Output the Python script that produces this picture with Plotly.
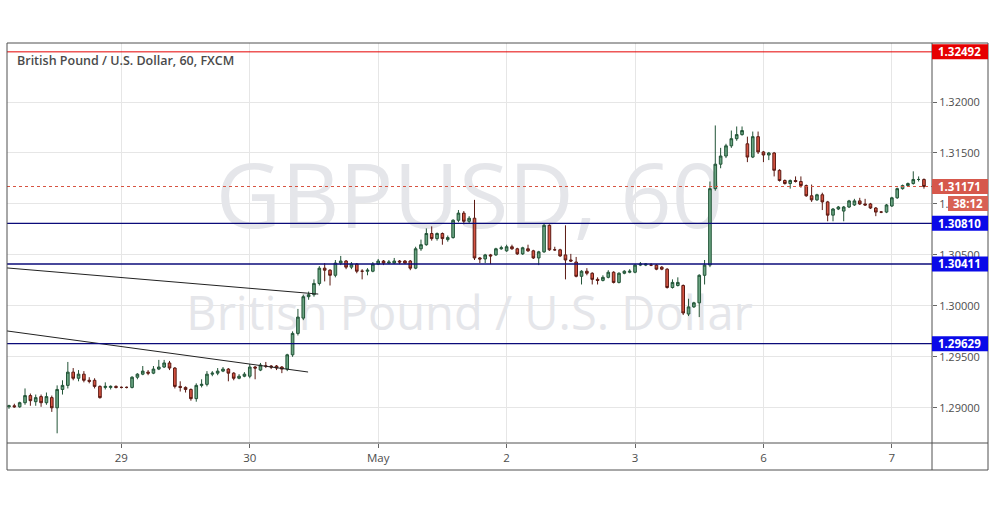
import plotly.graph_objects as go

# ---------------- data ----------------
opens = [1.2901,1.2902,1.2901,1.2905,1.2912,1.2906,1.2911,1.2905,1.2910,1.2900,
         1.2918,1.2922,1.2935,1.2929,1.2933,1.2927,1.2927,1.2921,1.2920,1.2920,
         1.2921,1.2920,1.2920,1.2920,1.2930,1.2933,1.2935,1.2934,1.2938,1.2940,
         1.2944,1.2939,1.2921,1.2920,1.2918,1.2909,1.2922,1.2923,1.2933,1.2934,
         1.2936,1.2938,1.2934,1.2929,1.2931,1.2931,1.2940,1.2937,1.2941,1.2941,
         1.2941,1.2940,1.2938,1.2952,1.2973,1.2988,1.3009,1.3011,1.3022,1.3037,
         1.3035,1.3030,1.3042,1.3044,1.3038,1.3041,1.3034,1.3034,1.3034,1.3041,
         1.3044,1.3042,1.3042,1.3044,1.3044,1.3044,1.3037,1.3056,1.3060,1.3071,
         1.3066,1.3071,1.3065,1.3067,1.3084,1.3091,1.3083,1.3086,1.3047,1.3046,
         1.3050,1.3050,1.3056,1.3054,1.3058,1.3056,1.3051,1.3056,1.3054,1.3047,
         1.3053,1.3079,1.3055,1.3055,1.3050,1.3045,1.3043,1.3029,1.3034,1.3032,
         1.3026,1.3025,1.3028,1.3033,1.3023,1.3032,1.3033,1.3033,1.3040,1.3040,
         1.3040,1.3040,1.3038,1.3036,1.3018,1.3020,1.3020,1.2992,1.2999,1.3003,
         1.3030,1.3040,1.3115,1.3139,1.3147,1.3157,1.3164,1.3168,1.3159,1.3146,
         1.3166,1.3151,1.3148,1.3150,1.3133,1.3123,1.3120,1.3123,1.3122,1.3118,
         1.3108,1.3104,1.3109,1.3102,1.3089,1.3095,1.3093,1.3097,1.3099,1.3103,
         1.3100,1.3100,1.3096,1.3092,1.3092,1.3098,1.3106,1.3115,1.3118,1.3120,
         1.3124,1.3124]
highs = [1.2903,1.2904,1.2906,1.2919,1.2914,1.2913,1.2913,1.2915,1.2912,1.2922,
         1.2927,1.2945,1.2939,1.2937,1.2936,1.2930,1.2929,1.2922,1.2925,1.2922,
         1.2922,1.2921,1.2921,1.2931,1.2934,1.2941,1.2937,1.2941,1.2947,1.2947,
         1.2946,1.2940,1.2926,1.2921,1.2919,1.2924,1.2928,1.2936,1.2936,1.2939,
         1.2940,1.2939,1.2935,1.2933,1.2935,1.2943,1.2941,1.2944,1.2945,1.2942,
         1.2942,1.2941,1.2953,1.2975,1.2997,1.3011,1.3014,1.3026,1.3039,1.3042,
         1.3036,1.3045,1.3049,1.3045,1.3043,1.3042,1.3036,1.3037,1.3043,1.3046,
         1.3045,1.3045,1.3047,1.3045,1.3045,1.3045,1.3058,1.3065,1.3076,1.3078,
         1.3072,1.3072,1.3069,1.3085,1.3094,1.3093,1.3088,1.3104,1.3048,1.3051,
         1.3051,1.3057,1.3059,1.3060,1.3060,1.3057,1.3058,1.3060,1.3055,1.3054,
         1.3081,1.3080,1.3058,1.3056,1.3079,1.3051,1.3048,1.3035,1.3037,1.3033,
         1.3028,1.3030,1.3035,1.3034,1.3033,1.3035,1.3036,1.3041,1.3043,1.3042,
         1.3042,1.3041,1.3039,1.3037,1.3026,1.3028,1.3021,1.3007,1.3004,1.3031,
         1.3045,1.3122,1.3177,1.3155,1.3159,1.3172,1.3176,1.3176,1.3166,1.3171,
         1.3171,1.3152,1.3151,1.3151,1.3134,1.3124,1.3124,1.3127,1.3127,1.3119,
         1.3119,1.3110,1.3111,1.3103,1.3096,1.3098,1.3098,1.3104,1.3105,1.3106,
         1.3105,1.3101,1.3097,1.3093,1.3100,1.3107,1.3116,1.3119,1.3121,1.3132,
         1.3127,1.3125]
lows = [1.2899,1.2900,1.2900,1.2903,1.2902,1.2902,1.2901,1.2903,1.2896,1.2875,
        1.2913,1.2919,1.2927,1.2926,1.2925,1.2924,1.2919,1.2909,1.2918,1.2918,
        1.2919,1.2919,1.2919,1.2919,1.2928,1.2932,1.2932,1.2933,1.2937,1.2939,
        1.2937,1.2919,1.2916,1.2915,1.2907,1.2906,1.2920,1.2921,1.2931,1.2932,
        1.2935,1.2926,1.2927,1.2928,1.2930,1.2929,1.2928,1.2936,1.2939,1.2938,
        1.2937,1.2934,1.2936,1.2950,1.2971,1.2986,1.3006,1.3009,1.3020,1.3024,
        1.3020,1.3028,1.3040,1.3036,1.3036,1.3032,1.3026,1.3030,1.3033,1.3040,
        1.3040,1.3041,1.3041,1.3041,1.3041,1.3035,1.3036,1.3054,1.3059,1.3064,
        1.3064,1.3060,1.3063,1.3066,1.3082,1.3080,1.3081,1.3045,1.3042,1.3042,
        1.3041,1.3049,1.3055,1.3053,1.3055,1.3050,1.3050,1.3053,1.3046,1.3040,
        1.3052,1.3054,1.3054,1.3048,1.3026,1.3043,1.3028,1.3021,1.3030,1.3021,
        1.3021,1.3024,1.3027,1.3022,1.3022,1.3031,1.3032,1.3032,1.3039,1.3039,
        1.3039,1.3035,1.3035,1.3017,1.3017,1.3019,1.2991,1.2990,1.2998,1.2989,
        1.3021,1.3038,1.3113,1.3135,1.3145,1.3155,1.3162,1.3167,1.3141,1.3145,
        1.3149,1.3141,1.3143,1.3127,1.3122,1.3119,1.3115,1.3121,1.3116,1.3107,
        1.3102,1.3103,1.3094,1.3083,1.3083,1.3094,1.3083,1.3096,1.3098,1.3099,
        1.3098,1.3095,1.3088,1.3091,1.3091,1.3097,1.3105,1.3114,1.3117,1.3119,
        1.3122,1.3115]
closes = [1.2902,1.2901,1.2905,1.2912,1.2907,1.2910,1.2905,1.2911,1.2900,1.2918,
          1.2922,1.2935,1.2929,1.2933,1.2927,1.2926,1.2921,1.2910,1.2921,1.2921,
          1.2920,1.2920,1.2920,1.2930,1.2933,1.2936,1.2934,1.2938,1.2940,1.2944,
          1.2939,1.2921,1.2920,1.2918,1.2909,1.2922,1.2923,1.2933,1.2934,1.2936,
          1.2938,1.2934,1.2929,1.2931,1.2933,1.2940,1.2939,1.2942,1.2941,1.2940,
          1.2939,1.2938,1.2952,1.2973,1.2989,1.3009,1.3011,1.3022,1.3037,1.3035,
          1.3030,1.3042,1.3044,1.3038,1.3041,1.3034,1.3034,1.3035,1.3041,1.3044,
          1.3042,1.3043,1.3044,1.3043,1.3042,1.3037,1.3056,1.3060,1.3071,1.3066,
          1.3071,1.3066,1.3067,1.3084,1.3091,1.3083,1.3086,1.3047,1.3046,1.3050,
          1.3049,1.3056,1.3057,1.3058,1.3056,1.3051,1.3057,1.3054,1.3047,1.3053,
          1.3079,1.3055,1.3055,1.3049,1.3045,1.3044,1.3029,1.3034,1.3032,1.3026,
          1.3025,1.3028,1.3033,1.3023,1.3032,1.3034,1.3034,1.3040,1.3041,1.3041,
          1.3040,1.3036,1.3036,1.3018,1.3023,1.3023,1.2993,1.2999,1.3003,1.3030,
          1.3040,1.3115,1.3139,1.3147,1.3157,1.3164,1.3168,1.3172,1.3146,1.3166,
          1.3151,1.3148,1.3150,1.3133,1.3123,1.3120,1.3123,1.3122,1.3118,1.3108,
          1.3104,1.3109,1.3102,1.3089,1.3095,1.3097,1.3097,1.3103,1.3103,1.3100,
          1.3099,1.3096,1.3092,1.3092,1.3099,1.3106,1.3115,1.3118,1.3120,1.3124,
          1.3124,1.31171]
bars = list(range(len(closes)))

day_ticks = [21, 45, 69, 93, 117, 141, 165]
day_labels = ["29", "30", "May", "2", "3", "6", "7"]
price_ticks = [1.29, 1.295, 1.30, 1.305, 1.31, 1.315, 1.32]

resistance_level = 1.32492
support_levels = [1.30810, 1.30411, 1.29629]
last_price = 1.31171
countdown = "38:12"

trend1_x = [-0.37, 57.8]
trend1_y = [1.30372, 1.30116]
trend2_x = [-0.37, 55.9]
trend2_y = [1.29754, 1.29351]

title_text = "British Pound / U.S. Dollar, 60, FXCM"
watermark_1 = "GBPUSD, 60"
watermark_2 = "British Pound / U.S. Dollar"

# ---------------- geometry ----------------
W, H = 995, 507
ML, MR, MT, MB = 7, 63, 43, 64
PW = W - ML - MR
PH = H - MT - MB
X_RANGE = [-0.37, 172.5]
Y_RANGE = [1.286548, 1.325788]
PPX = (Y_RANGE[1] - Y_RANGE[0]) / PH  # price per pixel


def px_x(px):
    return (px - ML) / PW


def px_y(py):
    return (MT + PH - py) / PH


FONT = "Open Sans"
UP_FILL, UP_LINE = "#6ba583", "#225437"
DN_FILL, DN_LINE = "#d75442", "#5b1a13"
NAVY = "#0b0b7a"
BLUE_BOX = "#0a0ae8"
RED = "#e60000"
GRID = "#e6e6e6"
FRAME = "#505050"

fig = go.Figure()

# watermark on the base axes (drawn underneath the overlaid candle axes)
mid_x = (X_RANGE[0] + X_RANGE[1]) / 2
fig.add_trace(go.Scatter(x=[mid_x], y=[Y_RANGE[1] - 162 * PPX], mode="text",
                         text=[watermark_1], hoverinfo="skip", showlegend=False,
                         textfont=dict(family=FONT, size=90, color="#e5e6ea"),
                         xaxis="x", yaxis="y"))
fig.add_trace(go.Scatter(x=[mid_x], y=[Y_RANGE[1] - 275 * PPX], mode="text",
                         text=[watermark_2], hoverinfo="skip", showlegend=False,
                         textfont=dict(family=FONT, size=47, color="#e5e6ea"),
                         xaxis="x", yaxis="y"))

fig.add_trace(go.Candlestick(
    x=bars, open=opens, high=highs, low=lows, close=closes,
    increasing=dict(fillcolor=UP_FILL, line=dict(color=UP_LINE, width=1)),
    decreasing=dict(fillcolor=DN_FILL, line=dict(color=DN_LINE, width=1)),
    whiskerwidth=0, showlegend=False, hoverinfo="skip",
    xaxis="x2", yaxis="y2"))

shapes = []
annotations = []

# trend lines
for tx, ty in ((trend1_x, trend1_y), (trend2_x, trend2_y)):
    shapes.append(dict(type="line", xref="x", yref="y", x0=tx[0], x1=tx[1],
                       y0=ty[0], y1=ty[1], line=dict(color="#222222", width=1)))

# horizontal levels
shapes.append(dict(type="line", xref="paper", yref="y", x0=0, x1=1,
                   y0=resistance_level, y1=resistance_level,
                   line=dict(color=RED, width=1)))
for lv in support_levels:
    shapes.append(dict(type="line", xref="paper", yref="y", x0=0, x1=1,
                       y0=lv, y1=lv, line=dict(color=NAVY, width=1.3)))
shapes.append(dict(type="line", xref="paper", yref="y", x0=0, x1=1,
                   y0=last_price, y1=last_price,
                   line=dict(color=DN_FILL, width=1, dash="dot")))

# frame
x_right = px_x(988)
y_bottom = px_y(470)
frame_lines = [
    (0, 1, x_right, 1), (0, y_bottom, x_right, y_bottom),
    (0, y_bottom, 0, 1), (x_right, y_bottom, x_right, 1),
    (1, y_bottom, 1, 1), (0, 0, x_right, 0),
]
for x0, y0, x1, y1 in frame_lines:
    shapes.append(dict(type="line", xref="paper", yref="paper", x0=x0, y0=y0,
                       x1=x1, y1=y1, line=dict(color=FRAME, width=1)))

# price labels on axis
half = 7.5 * PPX
label_cx = px_x(960)


def axis_label(price, fill, text):
    shapes.append(dict(type="rect", xref="paper", yref="y", x0=1, x1=x_right,
                       y0=price - half, y1=price + half, fillcolor=fill,
                       line=dict(width=0), layer="above"))
    annotations.append(dict(xref="paper", yref="y", x=label_cx, y=price,
                            text="<b>%s</b>" % text, showarrow=False,
                            xanchor="center", yanchor="middle",
                            font=dict(family=FONT, size=11.5, color="white")))


axis_label(resistance_level, RED, "%.5f" % resistance_level)
for lv in support_levels:
    axis_label(lv, BLUE_BOX, "%.5f" % lv)
axis_label(last_price, "#d6584c", "%.5f" % last_price)

cd_center = last_price - 17 * PPX
shapes.append(dict(type="rect", xref="paper", yref="y", x0=px_x(948), x1=x_right,
                   y0=cd_center - half, y1=cd_center + half, fillcolor="#d86254",
                   line=dict(width=0), layer="above"))
annotations.append(dict(xref="paper", yref="y", x=px_x(968), y=cd_center,
                        text="<b>%s</b>" % countdown, showarrow=False,
                        xanchor="center", yanchor="middle",
                        font=dict(family=FONT, size=11.5, color="white")))

# title
annotations.append(dict(xref="paper", yref="paper", x=0, y=1, xshift=8, yshift=-17,
                        text=title_text, showarrow=False, xanchor="left",
                        yanchor="middle",
                        font=dict(family=FONT, size=12.5, color="#4a4a4a", weight=600)))

fig.update_layout(
    width=W, height=H,
    margin=dict(l=ML, r=MR, t=MT, b=MB, pad=0),
    paper_bgcolor="white", plot_bgcolor="white",
    showlegend=False,
    shapes=shapes, annotations=annotations,
    xaxis=dict(range=X_RANGE, tickvals=day_ticks, ticktext=day_labels,
               showgrid=True, gridcolor=GRID, gridwidth=1, zeroline=False,
               showline=False, ticks="outside", ticklen=4, tickcolor="#666",
               tickfont=dict(family=FONT, size=11.5, color="#4d4d4d"),
               rangeslider=dict(visible=False), fixedrange=True),
    yaxis=dict(range=Y_RANGE, side="right", tickvals=price_ticks,
               ticktext=["%.5f" % p for p in price_ticks],
               showgrid=True, gridcolor=GRID, gridwidth=1, zeroline=False,
               showline=False, ticks="outside", ticklen=4, tickcolor="#666",
               tickfont=dict(family=FONT, size=11, color="#4d4d4d"),
               fixedrange=True),
    xaxis2=dict(range=X_RANGE, overlaying="x", visible=False, showgrid=False,
                zeroline=False, rangeslider=dict(visible=False), fixedrange=True),
    yaxis2=dict(range=Y_RANGE, overlaying="y", side="right", visible=False,
                showgrid=False, zeroline=False, fixedrange=True),
)

fig.write_html("out.html", config=dict(displayModeBar=False),
               post_script="document.body.style.margin='0';document.body.style.overflow='hidden';")
